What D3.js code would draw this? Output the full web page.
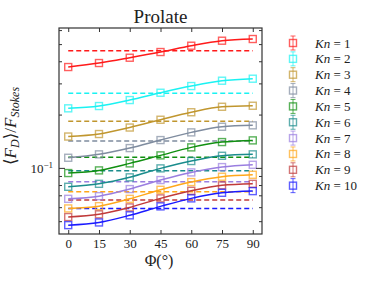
<!DOCTYPE html>
<html>
<head>
<meta charset="utf-8">
<script src="https://cdn.jsdelivr.net/npm/d3@7"></script>
<style>
  body { margin: 0; background: #fff; }
  text { font-family: "Liberation Serif", "DejaVu Serif", serif; fill: #222; }
</style>
</head>
<body>
<svg id="chart" width="374" height="281"></svg>
<script>
// angle values (degrees)
const angles = [0, 15, 30, 45, 60, 75, 90];
const knLabels = ["1", "2", "3", "4", "5", "6", "7", "8", "9", "10"];
const colors = ["#ff1a1a", "#1af2f2", "#c0962e", "#7f8c9f", "#119011", "#1a8c8c",
                "#9a7ee0", "#ffa71a", "#c03a3a", "#1a1aff"];

// <F_D>/F_Stokes for each Kn
const kn1  = [0.3735, 0.3935, 0.4216, 0.4540, 0.4928, 0.5260, 0.5377];
const kn2  = [0.2183, 0.2249, 0.2431, 0.2674, 0.2917, 0.3126, 0.3209];
const kn3  = [0.1513, 0.1563, 0.1701, 0.1882, 0.2075, 0.2228, 0.2258];
const kn4  = [0.1148, 0.1200, 0.1302, 0.1445, 0.1597, 0.1718, 0.1750];
const kn5  = [0.0941, 0.0974, 0.1067, 0.1184, 0.1314, 0.1408, 0.1439];
const kn6  = [0.0787, 0.0818, 0.0890, 0.1000, 0.1100, 0.1178, 0.1200];
const kn7  = [0.0673, 0.0697, 0.0764, 0.0859, 0.0949, 0.1017, 0.1048];
const kn8  = [0.0594, 0.0612, 0.0673, 0.0757, 0.0837, 0.0897, 0.0920];
const kn9  = [0.0531, 0.0550, 0.0602, 0.0677, 0.0747, 0.0802, 0.0818];
const kn10 = [0.0478, 0.0495, 0.0543, 0.0610, 0.0677, 0.0728, 0.0744];
const series = [kn1, kn2, kn3, kn4, kn5, kn6, kn7, kn8, kn9, kn10];

// dashed reference levels
const refLevels = [0.4617, 0.2653, 0.1843, 0.1427, 0.1154, 0.0969, 0.0840, 0.0738, 0.0662, 0.0594];

const xTicks = [0, 15, 30, 45, 60, 75, 90];

const svg = d3.select("#chart");
const pLeft = 59, pRight = 262, pTop = 28, pBottom = 234;

const x = d3.scaleLinear().domain([-4.5, 94.5]).range([pLeft, pRight]);
const y = d3.scaleLog().domain([0.0426, 0.6205]).range([pBottom, pTop]);

// title
svg.append("text")
    .attr("x", (pLeft + pRight) / 2)
    .attr("y", 22.5)
    .attr("text-anchor", "middle")
    .style("font-size", "19px")
    .text("Prolate");

const g = svg.append("g");

// dashed lines
series.forEach((s, i) => {
    g.append("line")
        .attr("x1", x(0)).attr("x2", x(90))
        .attr("y1", y(refLevels[i])).attr("y2", y(refLevels[i]))
        .attr("stroke", colors[i])
        .attr("stroke-width", 1.5)
        .attr("stroke-dasharray", "5,3");
});

// smooth curves + markers
const line = d3.line()
    .x((d, j) => x(angles[j]))
    .y(d => y(d))
    .curve(d3.curveMonotoneX);

series.forEach((s, i) => {
    g.append("path")
        .attr("d", line(s))
        .attr("fill", "none")
        .attr("stroke", colors[i])
        .attr("stroke-width", 1.5);

    g.selectAll(null)
        .data(s)
        .enter()
        .append("rect")
        .attr("x", (d, j) => x(angles[j]) - 3.5)
        .attr("y", d => y(d) - 3.5)
        .attr("width", 7)
        .attr("height", 7)
        .attr("fill", "none")
        .attr("stroke", colors[i])
        .attr("stroke-opacity", 0.7)
        .attr("stroke-width", 1.4);
});

// frame
svg.append("rect")
    .attr("x", pLeft).attr("y", pTop)
    .attr("width", pRight - pLeft).attr("height", pBottom - pTop)
    .attr("fill", "none")
    .attr("stroke", "#333")
    .attr("stroke-width", 1.2);

// x axis ticks (inside, bottom + top)
const xAxis = svg.append("g").attr("transform", "translate(0," + pBottom + ")")
    .call(d3.axisBottom(x).tickValues(xTicks).tickSizeInner(-4).tickSizeOuter(0).tickPadding(5));
xAxis.select(".domain").remove();
xAxis.selectAll("text").style("font-size", "13px").style("font-family", "Liberation Serif").attr("fill", "#222");
xAxis.selectAll("line").attr("stroke", "#333");

const xTop = svg.append("g").attr("transform", "translate(0," + pTop + ")")
    .call(d3.axisTop(x).tickValues(xTicks).tickSizeInner(-4).tickSizeOuter(0).tickFormat(""));
xTop.select(".domain").remove();
xTop.selectAll("line").attr("stroke", "#333");

// y minor ticks
const yMinor = [0.05, 0.06, 0.07, 0.08, 0.09, 0.2, 0.3, 0.4, 0.5, 0.6];
[[pLeft, 1], [pRight, -1]].forEach(([px, dir]) => {
    const ga = svg.append("g");
    ga.selectAll(null).data(yMinor).enter().append("line")
        .attr("x1", px).attr("x2", px + dir * 3)
        .attr("y1", d => y(d)).attr("y2", d => y(d))
        .attr("stroke", "#333");
    ga.append("line")
        .attr("x1", px).attr("x2", px + dir * 6)
        .attr("y1", y(0.1)).attr("y2", y(0.1))
        .attr("stroke", "#333");
});

// 10^-1 label
const yl = svg.append("text")
    .attr("x", 53)
    .attr("y", y(0.1) + 4.5)
    .attr("text-anchor", "end")
    .style("font-size", "13px");
yl.append("tspan").text("10");
yl.append("tspan").attr("dy", -5).style("font-size", "9px").text("\u22121");

// x label
const xl = svg.append("text")
    .attr("x", 159)
    .attr("y", 266)
    .attr("text-anchor", "middle")
    .style("font-size", "16px");
xl.text("\u03A6(\u00B0)");

// y label
const ylab = svg.append("text")
    .attr("transform", "translate(16,126) rotate(-90)")
    .attr("text-anchor", "middle")
    .style("font-size", "17px");
ylab.append("tspan").text("\u27E8");
ylab.append("tspan").style("font-style", "italic").text("F");
ylab.append("tspan").style("font-style", "italic").style("font-size", "12px").attr("dy", 3).text("D");
ylab.append("tspan").attr("dy", -3).text("\u27E9/");
ylab.append("tspan").style("font-style", "italic").text("F");
ylab.append("tspan").style("font-style", "italic").style("font-size", "12px").attr("dy", 3).text("Stokes");

// legend
const legend = svg.append("g");
knLabels.forEach((k, i) => {
    const ly = 43 + i * 15.85;
    const lg = legend.append("g").attr("transform", "translate(293," + ly + ")");
    lg.append("line").attr("x1", 0).attr("x2", 0).attr("y1", -7).attr("y2", 7)
        .attr("stroke", colors[i]).attr("stroke-opacity", 0.7);
    lg.append("line").attr("x1", -2.5).attr("x2", 2.5).attr("y1", -7).attr("y2", -7)
        .attr("stroke", colors[i]).attr("stroke-opacity", 0.7);
    lg.append("line").attr("x1", -2.5).attr("x2", 2.5).attr("y1", 7).attr("y2", 7)
        .attr("stroke", colors[i]).attr("stroke-opacity", 0.7);
    lg.append("rect").attr("x", -3.5).attr("y", -3.5).attr("width", 7).attr("height", 7)
        .attr("fill", "#fff").attr("stroke", colors[i]).attr("stroke-opacity", 0.7).attr("stroke-width", 1.4);
    lg.append("line").attr("x1", 0).attr("x2", 0).attr("y1", -3.5).attr("y2", 3.5)
        .attr("stroke", colors[i]).attr("stroke-opacity", 0.7);
    const t = lg.append("text").attr("x", 22).attr("y", 4.5).style("font-size", "13px");
    t.append("tspan").style("font-style", "italic").text("Kn");
    t.append("tspan").text(" = " + k);
});
</script>
</body>
</html>
